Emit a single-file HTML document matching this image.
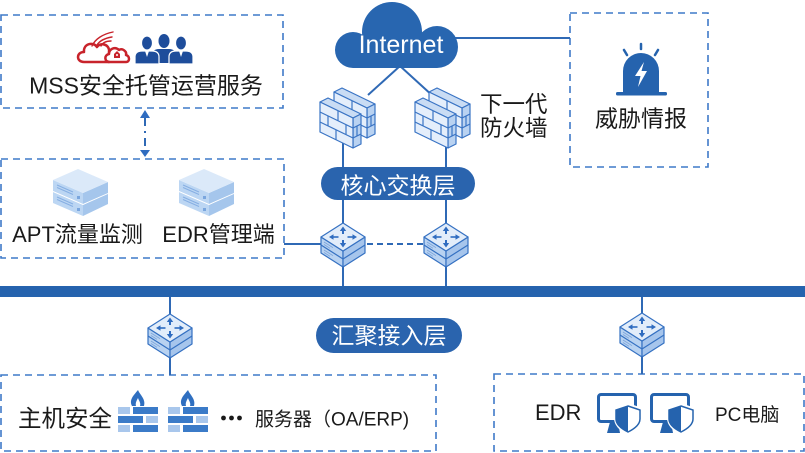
<!DOCTYPE html>
<html><head><meta charset="utf-8">
<style>
html,body{margin:0;padding:0;background:#fff;width:805px;height:453px;overflow:hidden}
svg{display:block}
text{font-family:"Liberation Sans","Noto Sans CJK SC",sans-serif}
</style></head>
<body>
<svg width="805" height="453" viewBox="0 0 805 453" xmlns="http://www.w3.org/2000/svg">
<defs>
  <g id="sw" stroke="#3571c2" stroke-width="1.2" stroke-linejoin="round">
    <polygon points="-22,14 0,28 0,44 -22,30" fill="#b8d2f1"/>
    <polygon points="0,28 22,14 22,30 0,44" fill="#a6c5ec"/>
    <polyline points="-22,22 0,36 22,22" fill="none"/>
    <polygon points="-22,14 0,0 22,14 0,28" fill="#e2edfa"/>
    <g fill="#2f6cc0" stroke="none">
      <polygon points="0,3.5 -3.2,8 3.2,8"/><rect x="-1" y="8" width="2" height="3"/>
      <polygon points="0,24.5 -3.2,20 3.2,20"/><rect x="-1" y="17" width="2" height="3"/>
      <polygon points="-14,14 -9.5,11.3 -9.5,16.7"/><rect x="-9.5" y="13.2" width="5" height="1.6"/>
      <polygon points="14,14 9.5,11.3 9.5,16.7"/><rect x="4.5" y="13.2" width="5" height="1.6"/>
    </g>
    <g stroke="#7aa3d9" stroke-width="0.8">
      <line x1="-19" y1="19" x2="-10" y2="24.7"/><line x1="-19" y1="21.5" x2="-13" y2="25.3"/>
      <line x1="-19" y1="27" x2="-10" y2="32.7"/><line x1="-19" y1="29.5" x2="-13" y2="33.3"/>
    </g>
  </g>
  <g id="wall" stroke="#3a74c4" stroke-width="1.2" stroke-linejoin="round">
    <polygon points="0,10 8,6 41,22 33,26" fill="#c9dcf4"/>
    <polygon points="33,26 41,22 41,52 33,56" fill="#b9d2f1"/>
    <polygon points="0,10 33,26 33,56 0,40" fill="#e4eefb"/>
    <g fill="none">
      <line x1="0" y1="20" x2="33" y2="36"/>
      <line x1="0" y1="30" x2="33" y2="46"/>
      <line x1="18" y1="18.7" x2="18" y2="28.7"/>
      <line x1="8" y1="23.9" x2="8" y2="33.9"/>
      <line x1="26" y1="32.6" x2="26" y2="42.6"/>
      <line x1="16" y1="37.8" x2="16" y2="47.8"/>
      <line x1="33" y1="36" x2="41" y2="32"/>
      <line x1="33" y1="46" x2="41" y2="42"/>
      <line x1="37" y1="34" x2="37" y2="44"/>
    </g>
  </g>
  <g id="srv">
    <polygon points="0,23 30,36 30,47 0,34" fill="#bcd6f3"/>
    <polygon points="30,36 55,24 55,35 30,47" fill="#a5c6ec"/>
    <polygon points="0,11 30,24 30,35 0,22" fill="#bcd6f3"/>
    <polygon points="30,24 55,13 55,24 30,35" fill="#a5c6ec"/>
    <polygon points="0,11 25,0 55,13 30,24" fill="#dbe9f9"/>
    <g stroke="#86afe3" stroke-width="1">
      <line x1="4" y1="16" x2="20" y2="23"/><line x1="4" y1="18.5" x2="20" y2="25.5"/>
      <line x1="4" y1="28" x2="20" y2="35"/><line x1="4" y1="30.5" x2="20" y2="37.5"/>
    </g>
    <rect x="24" y="27" width="3" height="3" fill="#7aa6de"/>
    <rect x="24" y="39" width="3" height="3" fill="#7aa6de"/>
    <line x1="0" y1="22.5" x2="30" y2="35.5" stroke="#fff" stroke-width="0.8"/>
    <line x1="30" y1="35.5" x2="55" y2="24.5" stroke="#fff" stroke-width="0.8"/>
  </g>
  <g id="brk">
    <path d="M14,16 C11,10 15,6 20,0 C22,5 28,9 26,16 Z" fill="#2f6fc0"/>
    <path d="M18,16 C17,13 19,10 20,8 C21,11 23,13 22,16 Z" fill="#fff"/>
    <rect x="0" y="17" width="12" height="7" fill="#a9c7ec"/>
    <rect x="15" y="17" width="25" height="7" fill="#3b7bc8"/>
    <rect x="0" y="26" width="25" height="7" fill="#3b7bc8"/>
    <rect x="28" y="26" width="12" height="7" fill="#a9c7ec"/>
    <rect x="0" y="35" width="12" height="7" fill="#a9c7ec"/>
    <rect x="15" y="35" width="25" height="7" fill="#3b7bc8"/>
  </g>
  <g id="mon">
    <rect x="1.5" y="1.5" width="37" height="27" rx="2.5" fill="none" stroke="#2563ae" stroke-width="3"/>
    <polygon points="13,29 21,29 23,40 10,40" fill="#2563ae"/>
    <path d="M31,10 L45,15 L45,25 Q45,35 31,42 Q17,35 17,25 L17,15 Z" fill="#fff"/>
    <path d="M31,13 L43,17 L43,26 Q43,33 31,39 Q19,33 19,26 L19,17 Z" fill="#fff" stroke="#2563ae" stroke-width="1.5"/>
    <path d="M31,13 L19,17 L19,26 Q19,33 31,39 Z" fill="#2563ae"/>
  </g>
</defs>

<!-- dashed boxes -->
<g fill="none" stroke="#3f7ac8" stroke-width="1.6" stroke-dasharray="7 5">
  <rect x="1" y="15" width="282" height="93"/>
  <rect x="1" y="159" width="283" height="99"/>
  <rect x="570" y="13" width="138" height="154"/>
  <rect x="1" y="375" width="435" height="76"/>
  <rect x="494" y="374" width="310" height="77"/>
</g>

<!-- connector lines -->
<g stroke="#2f69b5" stroke-width="2" fill="none">
  <line x1="400" y1="66" x2="368" y2="95"/>
  <line x1="400" y1="66" x2="434" y2="97"/>
  <line x1="455" y1="38" x2="570" y2="38"/>
  <line x1="343" y1="140" x2="343" y2="225"/>
  <line x1="446" y1="140" x2="446" y2="225"/>
  <line x1="343" y1="265" x2="343" y2="287"/>
  <line x1="446" y1="265" x2="446" y2="287"/>
  <line x1="284" y1="244" x2="322" y2="244"/>
  <line x1="367" y1="244" x2="424" y2="244" stroke-dasharray="6 4"/>
  <line x1="170" y1="296" x2="170" y2="375"/>
  <line x1="642" y1="296" x2="642" y2="374"/>
  <line x1="145" y1="118" x2="145" y2="150" stroke-dasharray="8 5 2 5"/>
</g>
<polygon points="145,110 140,118 150,118" fill="#2f6cc0"/>
<polygon points="145,157 140,150 150,150" fill="#2f6cc0"/>

<!-- bus -->
<rect x="0" y="286" width="805" height="11" fill="#2563ae"/>

<!-- cloud -->
<g fill="#2866b0">
  <circle cx="353" cy="50" r="18"/>
  <circle cx="392" cy="32" r="30"/>
  <circle cx="437" cy="47" r="21"/>
  <rect x="353" y="40" width="84" height="28"/>
</g>
<text x="401" y="53" font-size="25" fill="#fff" text-anchor="middle">Internet</text>

<!-- firewalls -->
<use href="#wall" x="334" y="82"/>
<use href="#wall" x="320" y="92"/>
<use href="#wall" x="429" y="82"/>
<use href="#wall" x="415" y="92"/>
<text x="480" y="112" font-size="22.5" fill="#1a1a1a">下一代</text>
<text x="480" y="136" font-size="22.5" fill="#1a1a1a">防火墙</text>

<!-- threat intel -->
<g stroke="#2563ae" stroke-width="2.5" stroke-linecap="round">
  <line x1="641" y1="44" x2="641" y2="49"/>
  <line x1="624" y1="50" x2="627" y2="55"/>
  <line x1="658" y1="50" x2="655" y2="55"/>
</g>
<path d="M623,92 L623,71 A18,18 0 0 1 659,71 L659,92 Z" fill="#2563ae"/>
<rect x="616" y="92" width="51" height="3.5" rx="1.5" fill="#2563ae"/>
<polygon points="644,62 635,76 640.5,76 638,87 647,71 641.5,71" fill="#fff"/>
<text x="641" y="126.5" font-size="23" fill="#1a1a1a" text-anchor="middle">威胁情报</text>

<!-- MSS icons -->
<g fill="#fff" stroke="#c8232b" stroke-width="2.5" stroke-linejoin="round">
  <path d="M84,62 C76,62 76,52 84,52 C83,44 93,41 97,47 C100,42 110,44 109,52 L109,62 Z"/>
  <path d="M110,62 C104,62 104,55 109,54 C109,49 115,46 119,50 C122,48 127,51 126,55 C130,56 130,62 126,62 Z"/>
</g>
<path d="M114,58 L114,54 L117,51 L120,54 L120,58 Z" fill="#c8232b"/>
<circle cx="117" cy="55" r="1" fill="#fff"/>
<g fill="none" stroke="#c8232b" stroke-width="1.4" stroke-linecap="round">
  <path d="M92,46 C95,39 103,34 113,32"/>
  <path d="M97,45 C100,40 106,38 112,37"/>
  <path d="M101,46 C103,42 107,41 111,41"/>
</g>
<g fill="#1e4d9b">
  <ellipse cx="164" cy="41" rx="5.5" ry="7"/>
  <path d="M152,63 L152,56 Q152,49 159,49 L169,49 Q176,49 176,56 L176,63 Z"/>
</g>
<g fill="#1e4d9b" stroke="#fff" stroke-width="1.2">
  <ellipse cx="147" cy="43" rx="5.5" ry="7"/>
  <path d="M135,64 L135,57 Q135,51 142,51 L152,51 Q159,51 159,57 L159,64 Z"/>
  <ellipse cx="181" cy="43" rx="5.5" ry="7"/>
  <path d="M169,64 L169,57 Q169,51 176,51 L186,51 Q193,51 193,57 L193,64 Z"/>
</g>
<g fill="#fff">
  <path d="M145,51 L147,57 L149,51 Z"/>
  <path d="M179,51 L181,57 L183,51 Z"/>
</g>
<text x="146" y="93.5" font-size="23" fill="#1a1a1a" text-anchor="middle">MSS安全托管运营服务</text>

<!-- servers -->
<use href="#srv" x="53" y="169"/>
<use href="#srv" x="179" y="169"/>
<text x="77.5" y="242" font-size="22" fill="#1a1a1a" text-anchor="middle">APT流量监测</text>
<text x="218.5" y="242" font-size="22" fill="#1a1a1a" text-anchor="middle">EDR管理端</text>

<!-- core pill -->
<rect x="321" y="167" width="154" height="33" rx="16.5" fill="#2a64ae"/>
<text x="398" y="193.5" font-size="23" fill="#fff" text-anchor="middle">核心交换层</text>

<!-- switches -->
<use href="#sw" x="343" y="223"/>
<use href="#sw" x="446" y="223"/>
<use href="#sw" x="170" y="314"/>
<use href="#sw" x="642" y="313"/>

<!-- access pill -->
<rect x="316" y="318" width="146" height="35" rx="17.5" fill="#2a64ae"/>
<text x="389" y="343.5" font-size="23" fill="#fff" text-anchor="middle">汇聚接入层</text>

<!-- bottom left -->
<text x="65" y="426.5" font-size="23.5" fill="#1a1a1a" text-anchor="middle">主机安全</text>
<use href="#brk" x="118" y="390"/>
<use href="#brk" x="168" y="390"/>
<g fill="#1a1a1a">
  <circle cx="223.5" cy="418" r="2.4"/>
  <circle cx="231.5" cy="418" r="2.4"/>
  <circle cx="239.5" cy="418" r="2.4"/>
</g>
<text x="255" y="425.5" font-size="19" fill="#1a1a1a">服务器（OA/ERP)</text>

<!-- bottom right -->
<text x="535" y="420" font-size="22" fill="#1a1a1a">EDR</text>
<use href="#mon" x="597" y="393"/>
<use href="#mon" x="650" y="393"/>
<text x="715" y="421" font-size="19" fill="#1a1a1a">PC电脑</text>
</svg>
</body></html>
